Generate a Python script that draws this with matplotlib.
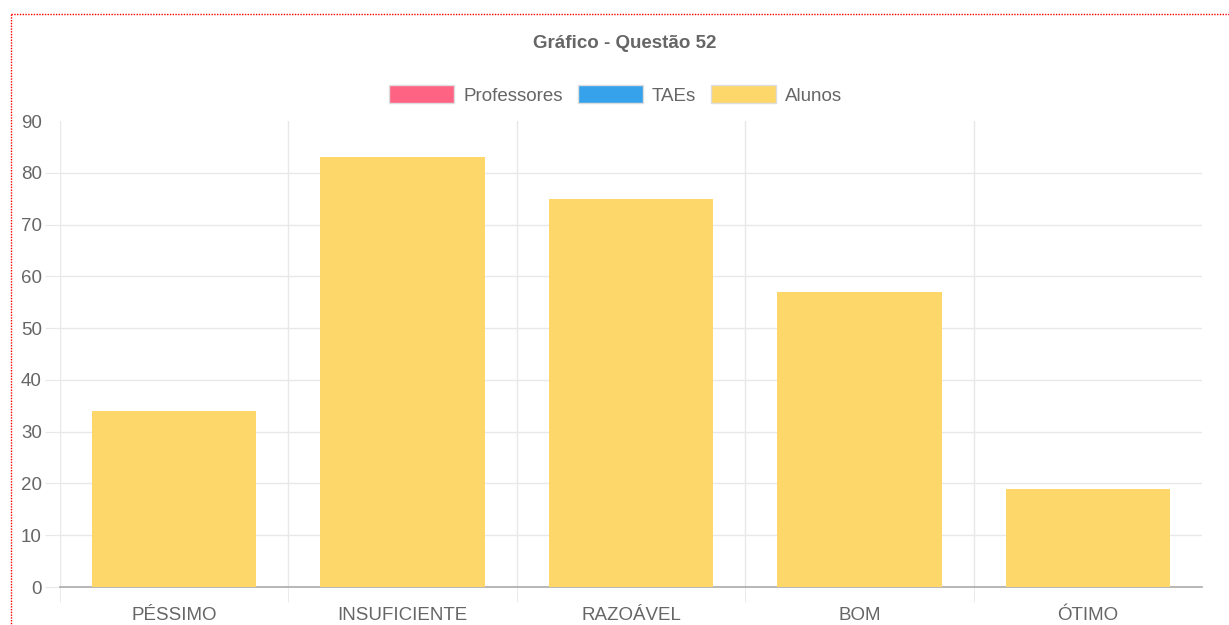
import matplotlib
matplotlib.use("Agg")
import matplotlib.pyplot as plt
from matplotlib.patches import Patch
from matplotlib.lines import Line2D

categories = ["PÉSSIMO", "INSUFICIENTE", "RAZOÁVEL", "BOM", "ÓTIMO"]
alunos = [34, 83, 75, 57, 19]
series_names = ["Professores", "TAEs", "Alunos"]
series_colors = ["#FF6384", "#36A2EB", "#FDD76A"]
yticks = [0, 10, 20, 30, 40, 50, 60, 70, 80, 90]
title = "Gráfico - Questão 52"

plt.rcParams['font.family'] = ['Liberation Sans', 'DejaVu Sans']
W, H = 1229, 625
fig = plt.figure(figsize=(W / 100, H / 100), dpi=100)
ax = fig.add_axes([60 / W, 1 - 587 / H, (1202 - 60) / W, (587 - 121) / H])

x = list(range(len(categories)))
ax.bar(x, alunos, width=0.72, color=series_colors[2], zorder=3)

ax.set_xlim(-0.5, len(categories) - 0.5)
ax.set_ylim(0, 90)
ax.set_yticks(yticks)
ax.set_xticks(x)
ax.set_xticklabels(categories)
ax.set_xticks([i - 0.5 for i in range(len(categories))], minor=True)

for s in ["top", "right", "left"]:
    ax.spines[s].set_visible(False)
ax.spines["bottom"].set_color("#aaaaaa")
ax.spines["bottom"].set_linewidth(1.2)

grid_c = "#e8e8e8"
ax.grid(axis="y", color=grid_c, linewidth=1, zorder=0)
ax.grid(axis="x", which="minor", color=grid_c, linewidth=1, zorder=0)
ax.yaxis.get_gridlines()[-1].set_visible(False)

ax.tick_params(axis="y", length=11, color=grid_c, pad=2, labelsize=13.5, labelcolor="#666666")
ax.tick_params(axis="x", which="major", length=0, pad=14.5, labelsize=13.5, labelcolor="#666666")
ax.tick_params(axis="x", which="minor", length=11, color=grid_c)
ax.yaxis.get_major_ticks()[-1].tick1line.set_visible(False)

fig.text(625 / W, 1 - 43 / H, title, ha="center", va="center", fontsize=13.5,
         fontweight="bold", color="#666666")

handles = [Patch(facecolor=c, edgecolor="#dddddd", linewidth=1) for c in series_colors]
fig.legend(handles, series_names, loc="center", bbox_to_anchor=(616 / W, 1 - 95 / H),
           ncol=3, frameon=False, fontsize=13.5, labelcolor="#666666",
           handlelength=3.45, handleheight=1.05, handletextpad=0.5, columnspacing=0.8)

# dotted red frame
fig.add_artist(Line2D([11 / W, 11 / W], [1 - 14 / H, 0], color="red", linestyle=(0, (1, 1)),
                      linewidth=1, transform=fig.transFigure))
fig.add_artist(Line2D([11 / W, 1], [1 - 14 / H, 1 - 14 / H], color="red", linestyle=(0, (1, 1)),
                      linewidth=1, transform=fig.transFigure))

fig.savefig("out.png", dpi=100)
